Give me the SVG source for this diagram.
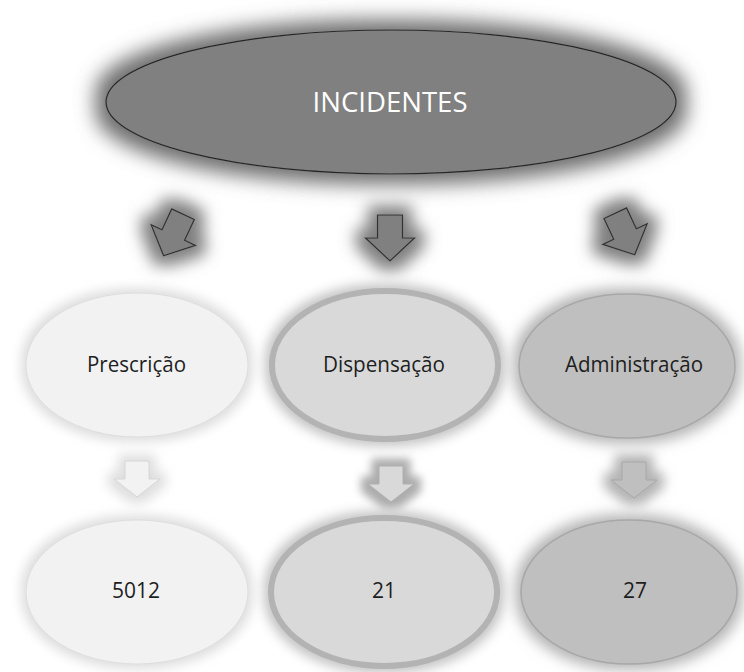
<svg xmlns="http://www.w3.org/2000/svg" width="744" height="672" viewBox="0 0 744 672">
<defs>
<filter id="glowDark" x="-20%" y="-60%" width="140%" height="220%">
<feMorphology in="SourceAlpha" operator="dilate" radius="10" result="d"/>
<feGaussianBlur in="d" stdDeviation="10" result="b"/>
<feFlood flood-color="#6e6e6e" flood-opacity="1"/>
<feComposite in2="b" operator="in" result="g"/>
<feMerge><feMergeNode in="g"/><feMergeNode in="SourceGraphic"/></feMerge>
</filter>
<filter id="glowArrow" x="-100%" y="-100%" width="300%" height="300%">
<feMorphology in="SourceAlpha" operator="dilate" radius="9" result="d"/>
<feGaussianBlur in="d" stdDeviation="8" result="b"/>
<feFlood flood-color="#7f7f7f" flood-opacity="1"/>
<feComposite in2="b" operator="in" result="g"/>
<feMerge><feMergeNode in="g"/><feMergeNode in="SourceGraphic"/></feMerge>
</filter>
<filter id="glowLight" x="-30%" y="-30%" width="160%" height="160%">
<feMorphology in="SourceAlpha" operator="dilate" radius="4" result="d"/>
<feGaussianBlur in="d" stdDeviation="6" result="b"/>
<feFlood flood-color="#dcdcdc" flood-opacity="1"/>
<feComposite in2="b" operator="in" result="g"/>
<feMerge><feMergeNode in="g"/><feMergeNode in="SourceGraphic"/></feMerge>
</filter>
<filter id="glowMid" x="-30%" y="-30%" width="160%" height="160%">
<feMorphology in="SourceAlpha" operator="dilate" radius="4" result="d"/>
<feGaussianBlur in="d" stdDeviation="6" result="b"/>
<feFlood flood-color="#c2c2c2" flood-opacity="1"/>
<feComposite in2="b" operator="in" result="g"/>
<feMerge><feMergeNode in="g"/><feMergeNode in="SourceGraphic"/></feMerge>
</filter>
<filter id="glowDarkish" x="-30%" y="-30%" width="160%" height="160%">
<feMorphology in="SourceAlpha" operator="dilate" radius="5" result="d"/>
<feGaussianBlur in="d" stdDeviation="7" result="b"/>
<feFlood flood-color="#b4b4b4" flood-opacity="1"/>
<feComposite in2="b" operator="in" result="g"/>
<feMerge><feMergeNode in="g"/><feMergeNode in="SourceGraphic"/></feMerge>
</filter>
<filter id="glowArrowLight" x="-100%" y="-100%" width="300%" height="300%">
<feMorphology in="SourceAlpha" operator="dilate" radius="6" result="d"/>
<feGaussianBlur in="d" stdDeviation="6" result="b"/>
<feFlood flood-color="#dedede" flood-opacity="1"/>
<feComposite in2="b" operator="in" result="g"/>
<feMerge><feMergeNode in="g"/><feMergeNode in="SourceGraphic"/></feMerge>
</filter>
<filter id="glowArrowMid" x="-100%" y="-100%" width="300%" height="300%">
<feMorphology in="SourceAlpha" operator="dilate" radius="7" result="d"/>
<feGaussianBlur in="d" stdDeviation="4" result="b"/>
<feFlood flood-color="#acacac" flood-opacity="1"/>
<feComposite in2="b" operator="in" result="g"/>
<feMerge><feMergeNode in="g"/><feMergeNode in="SourceGraphic"/></feMerge>
</filter>
<filter id="glowArrowDark" x="-100%" y="-100%" width="300%" height="300%">
<feMorphology in="SourceAlpha" operator="dilate" radius="7" result="d"/>
<feGaussianBlur in="d" stdDeviation="6" result="b"/>
<feFlood flood-color="#b3b3b3" flood-opacity="1"/>
<feComposite in2="b" operator="in" result="g"/>
<feMerge><feMergeNode in="g"/><feMergeNode in="SourceGraphic"/></feMerge>
</filter>
<path id="arrowTop" d="M-12.5,-23 H12.5 V0 H24.5 L0,23 L-24.5,0 H-12.5 Z"/>
<path id="arrowLow" d="M-12,-18 H12 V0 H23 L0,18 L-23,0 H-12 Z"/>
</defs>
<style>
.lbl{font-family:"Open Sans","Noto Sans","Liberation Sans",sans-serif;font-size:21px;fill:#1e1e1e;text-anchor:middle}
.title{font-family:"Open Sans","Noto Sans","Liberation Sans",sans-serif;font-size:27px;fill:#ffffff;text-anchor:middle}
.aTop{fill:#808080;stroke:#303030;stroke-width:1.2;stroke-linejoin:miter}
</style>
<rect width="744" height="672" fill="#ffffff"/>

<g id="connectors">
<g filter="url(#glowArrow)"><use href="#arrowTop" class="aTop" transform="translate(173.3,235) rotate(25)"/></g>
<g filter="url(#glowArrow)"><use href="#arrowTop" class="aTop" transform="translate(390,238)"/></g>
<g filter="url(#glowArrow)"><use href="#arrowTop" class="aTop" transform="translate(625,234) rotate(-25)"/></g>
<g filter="url(#glowArrowLight)"><use href="#arrowLow" fill="#f2f2f2" stroke="#d6d6d6" stroke-width="1" transform="translate(137,479)"/></g>
<g filter="url(#glowArrowMid)"><use href="#arrowLow" fill="#d9d9d9" stroke="#b0b0b0" stroke-width="1" transform="translate(391,484)"/></g>
<g filter="url(#glowArrowDark)"><use href="#arrowLow" fill="#bfbfbf" stroke="#a8a8a8" stroke-width="1" transform="translate(634,480)"/></g>
</g>

<g id="node-incidentes">
<ellipse cx="391" cy="102" rx="285" ry="72" fill="#808080" stroke="#262626" stroke-width="1.2" filter="url(#glowDark)"/>
<text class="title" x="390" y="112" textLength="155" lengthAdjust="spacingAndGlyphs">INCIDENTES</text>
</g>

<g id="node-prescricao">
<ellipse cx="137" cy="365" rx="111" ry="72" fill="#f2f2f2" stroke="#dedede" stroke-width="1" filter="url(#glowLight)"/>
<text class="lbl" x="136.5" y="372" textLength="99" lengthAdjust="spacingAndGlyphs">Prescrição</text>
</g>

<g id="node-dispensacao">
<ellipse cx="385" cy="365" rx="113" ry="74" fill="#d9d9d9" stroke="#b3b3b3" stroke-width="6" filter="url(#glowMid)"/>
<text class="lbl" x="384" y="372" textLength="122" lengthAdjust="spacingAndGlyphs">Dispensação</text>
</g>

<g id="node-administracao">
<ellipse cx="627" cy="366" rx="108" ry="72" fill="#bfbfbf" stroke="#a8a8a8" stroke-width="1.5" filter="url(#glowDarkish)"/>
<text class="lbl" x="634" y="372" textLength="138" lengthAdjust="spacingAndGlyphs">Administração</text>
</g>

<g id="node-5012">
<ellipse cx="137" cy="592" rx="111" ry="72" fill="#f2f2f2" stroke="#dedede" stroke-width="1" filter="url(#glowLight)"/>
<text class="lbl" x="136" y="598" textLength="48" lengthAdjust="spacingAndGlyphs">5012</text>
</g>

<g id="node-21">
<ellipse cx="384" cy="592" rx="113" ry="74" fill="#d9d9d9" stroke="#b3b3b3" stroke-width="6" filter="url(#glowMid)"/>
<text class="lbl" x="384" y="598">21</text>
</g>

<g id="node-27">
<ellipse cx="629" cy="592" rx="108" ry="72" fill="#bfbfbf" stroke="#a8a8a8" stroke-width="1.5" filter="url(#glowDarkish)"/>
<text class="lbl" x="635" y="598">27</text>
</g>
</svg>
